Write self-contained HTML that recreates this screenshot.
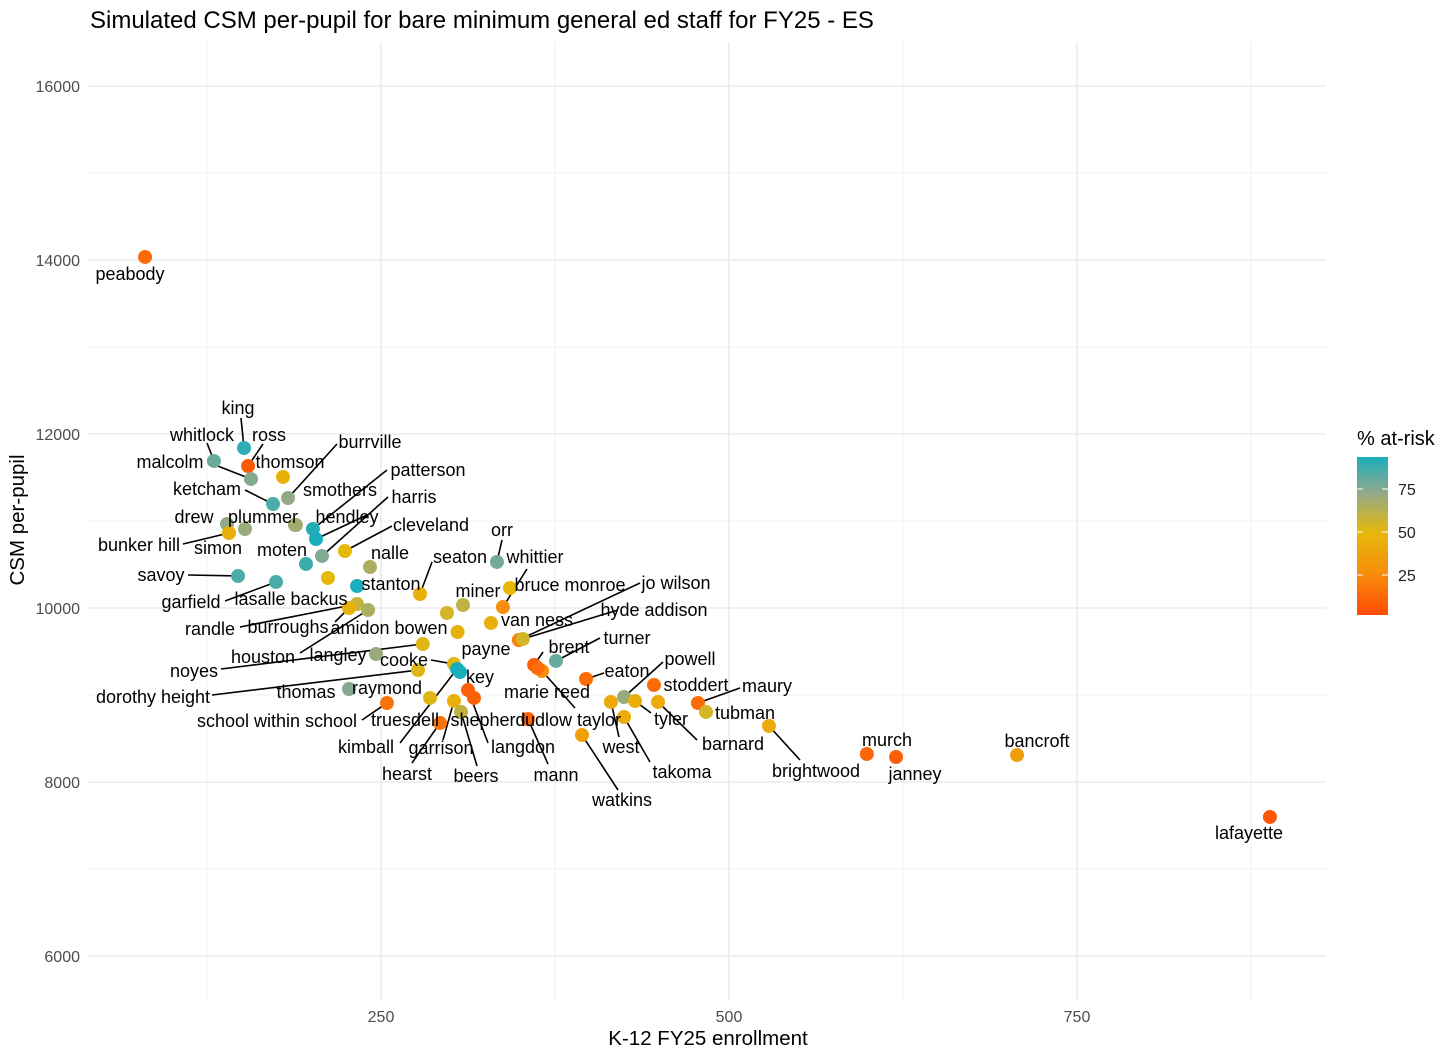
<!DOCTYPE html>
<html><head><meta charset="utf-8"><style>
body{margin:0;background:#fff;}
svg{display:block;font-family:"Liberation Sans",Arial,sans-serif;}
</style></head><body>
<svg id="chart" width="1456" height="1059" viewBox="0 0 1456 1059" xmlns="http://www.w3.org/2000/svg">
<defs>
<linearGradient id="lg" x1="0" y1="1" x2="0" y2="0">
<stop offset="0" stop-color="#ff4a05"/>
<stop offset="0.27" stop-color="#f78f0c"/>
<stop offset="0.52" stop-color="#e6b80a"/>
<stop offset="0.78" stop-color="#8fa98c"/>
<stop offset="1" stop-color="#1aaebd"/>
</linearGradient>
</defs>
<text x="90" y="28" font-size="24" fill="#000">Simulated CSM per-pupil for bare minimum general ed staff for FY25 - ES</text>
<g id="grid"></g>
<g id="axes"></g>
<g id="lines"></g>
<g id="pts"></g>
<g id="labs"></g>
<text x="708" y="1045" font-size="20.5" text-anchor="middle">K-12 FY25 enrollment</text>
<text transform="translate(24,520) rotate(-90)" font-size="20.5" text-anchor="middle">CSM per-pupil</text>
<g>
<text x="1357" y="445" font-size="20">% at-risk</text>
<rect x="1357" y="457" width="31" height="158" fill="url(#lg)"/>
<g id="legTicks"></g>
</g>
</svg>
<script>
const xTicks=[250,500,750];
const yTicks=[6000,8000,10000,12000,14000,16000];
const legendTicks=[25,50,75];
const names=["peabody","king","whitlock","ross","malcolm","thomson","ketcham","burrville","smothers","drew","bunker hill","simon","plummer","patterson","hendley","harris","moten","cleveland","nalle","lasalle backus","stanton","savoy","garfield","randle","burroughs","houston","langley","noyes","dorothy height","thomas","school within school","seaton","miner","amidon bowen","payne","orr","bruce monroe","whittier","van ness","jo wilson","hyde addison","cooke","kimball","key","truesdell","garrison","beers","langdon","shepherd","hearst","mann","brent","ludlow taylor","marie reed","turner","eaton","watkins","powell","west","takoma","tyler","barnard","stoddert","maury","tubman","brightwood","murch","janney","bancroft","lafayette","raymond"];
const enrollment=[80.5,151.6,130,154.5,156.6,179.6,172.4,183.2,188.9,139.4,140.8,152.3,188.2,201.1,203.3,207.6,196.1,224.1,242.1,211.9,232.8,147.3,174.6,232.8,227,240.7,246.4,280,276.6,227,254.3,278,308.9,297.4,305,333.3,342.7,337.6,329,349,351.9,302.4,304.6,306.8,285.2,302.4,307.5,312.5,316.8,292.4,355.6,360,365.7,362.5,375.7,397.3,394.4,424.6,415.2,424.6,432.5,449,446.1,477.7,483.5,528.7,599,620,706.9,888.6,null];
const csm=[14035,11839,11690,11632,11483,11506,11195,11264,10954,10966,10862,10908,10954,10908,10793,10598,10506,10655,10471,10345,10253,10368,10299,10046,10000,9977,9471,9586,9287,9069,8908,10161,10034,9943,9724,10529,10230,10011,9828,9632,9644,9356,9299,9264,8966,8931,8805,9057,8966,8678,8724,9345,9276,9310,9391,9184,8540,8977,8920,8747,8931,8920,9115,8908,8805,8644,8322,8287,8310,7598,null];
const atRisk=[12,90,80,5,75,45,85,72,70,72,45,70,68,92,95,75,88,50,65,50,95,85,85,58,45,65,70,52,52,75,15,45,60,55,45,78,50,25,45,20,55,50,95,95,52,45,60,8,8,15,10,8,25,12,80,12,35,70,40,42,45,42,12,12,55,40,10,8,35,5,null];
// label layout: name -> [labelX, labelY, lineEndX, lineEndY] (pixel layout, not data)
const labelLayout={"peabody":[130,274],"king":[238,408,241,418],"whitlock":[202,435,207,443],"ross":[269,435,263,444],"thomson":[290,462],"malcolm":[170,462,210,463],"ketcham":[207,489,245,490],"burrville":[370,442,337,444],"smothers":[340,490],"drew":[194,517],"bunker hill":[139,545,183,544],"simon":[218,548],"plummer":[263,517],"patterson":[428,470,387,470],"hendley":[347,517,367,515],"harris":[414,497,388,497],"moten":[282,550],"cleveland":[431,525,392,526],"nalle":[390,553],"lasalle backus":[291,599],"stanton":[391,584],"savoy":[161,575,188,575],"garfield":[191,602,225,601],"randle":[210,629,240,627],"burroughs":[288,627,335,622],"houston":[263,657,300,653],"amidon bowen":[389,628],"langley":[338,655],"noyes":[194,671,221,669],"dorothy height":[153,697,212,695],"thomas":[306,692],"school within school":[277,721,362,720],"seaton":[460,557,432,562],"miner":[478,591],"payne":[486,649],"orr":[502,530,502,540],"whittier":[535,557,527,569],"bruce monroe":[570,585],"van ness":[537,620],"jo wilson":[676,583,640,583],"hyde addison":[654,610,618,610],"cooke":[404,660,431,660],"key":[480,677],"raymond":[387,688],"kimball":[366,747,400,743],"truesdell":[405,720],"garrison":[441,748,443,740],"hearst":[407,774,412,763],"beers":[476,776,477,766],"shepherd":[488,720],"langdon":[523,747,488,743],"mann":[556,775,548,764],"marie reed":[547,692],"brent":[569,647,543,652],"turner":[627,638,600,638],"ludlow taylor":[571,720,575,708],"eaton":[627,671,604,673],"watkins":[622,800,618,790],"powell":[690,659,663,662],"west":[621,747,619,737],"takoma":[682,772,650,762],"tyler":[671,719,651,713],"barnard":[733,744,697,740],"stoddert":[696,685],"maury":[767,686,740,688],"tubman":[745,713],"brightwood":[816,771,800,760],"murch":[887,740],"janney":[915,774],"bancroft":[1037,741],"lafayette":[1249,833]};

const NS="http://www.w3.org/2000/svg";
const X0=88,X1=1326,Y0=42,Y1=1000;
function xs(v){return 33+v*1.392;}
function ys(v){return 86+(16000-v)*0.087;}
function ls(v){return 618-v*1.72;}
function lerp(a,b,t){return Math.round(a+(b-a)*t);}
const stops=[[0,[255,74,5]],[25,[247,143,12]],[50,[230,184,10]],[73,[143,169,140]],[94,[26,174,189]]];
function col(r){r=Math.max(0,Math.min(94,r));for(let i=0;i<stops.length-1;i++){const a=stops[i],b=stops[i+1];if(r<=b[0]){const t=(r-a[0])/(b[0]-a[0]);return`rgb(${lerp(a[1][0],b[1][0],t)},${lerp(a[1][1],b[1][1],t)},${lerp(a[1][2],b[1][2],t)})`;}}return"#1aaebd";}
function mk(tag,at,parent){const e=document.createElementNS(NS,tag);for(const k in at)e.setAttribute(k,at[k]);parent.appendChild(e);return e;}
const grid=document.getElementById('grid'),axes=document.getElementById('axes');
for(let v=125;v<=875;v+=250){const l=mk('line',{x1:xs(v),x2:xs(v),y1:Y0,y2:Y1,stroke:'#f0f0f0','stroke-width':1},grid);

}
for(let v=7000;v<=15000;v+=2000){const l=mk('line',{x1:X0,x2:X1,y1:ys(v),y2:ys(v),stroke:'#f0f0f0','stroke-width':1},grid);

}
xTicks.forEach(v=>{const l=mk('line',{x1:xs(v),x2:xs(v),y1:Y0,y2:Y1,stroke:'#e6e6e6','stroke-width':1.3},grid);


const t=mk('text',{x:xs(v),y:1022,'font-size':16,fill:'#4d4d4d','text-anchor':'middle'},axes);t.textContent=v;

});
yTicks.forEach(v=>{const l=mk('line',{x1:X0,x2:X1,y1:ys(v),y2:ys(v),stroke:'#e6e6e6','stroke-width':1.3},grid);


const t=mk('text',{x:80,y:ys(v)+6,'font-size':16,fill:'#4d4d4d','text-anchor':'end'},axes);t.textContent=v;

});
const lt=document.getElementById('legTicks');
legendTicks.forEach(v=>{const y=ls(v);
mk('line',{x1:1357,x2:1363,y1:y,y2:y,stroke:'#fff','stroke-width':1},lt);
mk('line',{x1:1382,x2:1388,y1:y,y2:y,stroke:'#fff','stroke-width':1},lt);
const t=mk('text',{x:1398,y:y+6,'font-size':16,fill:'#222'},lt);t.textContent=v;

});
const pts=document.getElementById('pts'),labs=document.getElementById('labs'),lines=document.getElementById('lines');
names.forEach((n,i)=>{
 const lay=labelLayout[n];
 if(enrollment[i]!=null){
  const cx=xs(enrollment[i]),cy=ys(csm[i]);
  const c=mk('circle',{cx:cx,cy:cy,r:7,fill:col(atRisk[i])},pts);
  
  
  if(lay&&lay.length>2){const l=mk('line',{x1:cx,y1:cy,x2:lay[2],y2:lay[3],stroke:'#000','stroke-width':1.6},lines);
  
  }
 }
 if(lay){const t=mk('text',{x:lay[0],y:lay[1]+6,'font-size':18,fill:'#000','text-anchor':'middle'},labs);t.textContent=n;
 
 }
});
</script>
</body></html>
